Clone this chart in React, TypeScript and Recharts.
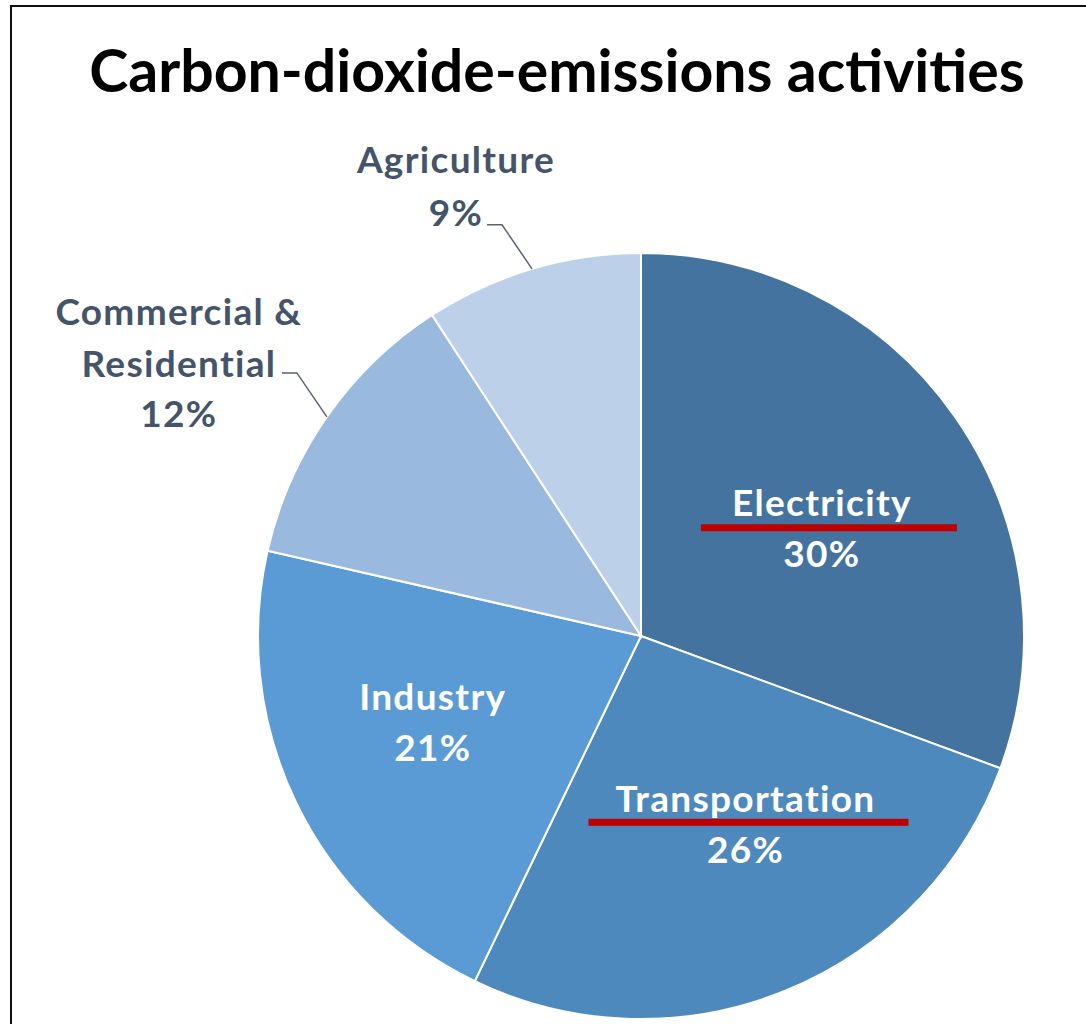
import { PieChart, Pie, Cell } from "recharts"

const CATEGORIES = ["Electricity", "Transportation", "Industry", "Commercial & Residential", "Agriculture"]
const SHARES = [30, 26, 21, 12, 9]
const LABEL_LINES = [["Electricity"], ["Transportation"], ["Industry"], ["Commercial &", "Residential"], ["Agriculture"]]
const COLORS = ["#44739f", "#4e89be", "#5b9bd5", "#9ab9df", "#bdd0ea"]

const data = CATEGORIES.map((name, i) => ({ name, value: SHARES[i] }))

const FONT = "Lato, 'Open Sans', sans-serif"
const RAD = Math.PI / 180
const LABEL_SIZE = 37
const LABEL_SPACING = 1.3

// label layout tweaks (Excel-style best fit positions)
const INSIDE_NUDGE: Record<number, [number, number]> = { 0: [5, 13], 1: [24, -12], 2: [-15, -9] }
const UNDERLINE: Record<number, { w: number; dx: number; dy: number }> = {
  0: { w: 256, dx: 7, dy: -2 },
  1: { w: 320, dx: 3, dy: -4 },
}
const OUTSIDE_TEXT: Record<number, { dx: number; dys: number[] }> = {
  3: { dx: -103, dys: [-62, -10, 40] },
  4: { dx: -31, dys: [-66, -13] },
}

function renderLabel(props: any) {
  const { cx, cy, midAngle, outerRadius, index, value } = props
  const cos = Math.cos(-midAngle * RAD)
  const sin = Math.sin(-midAngle * RAD)
  const lines = LABEL_LINES[index]
  const textProps = {
    textAnchor: "middle" as const,
    dominantBaseline: "central" as const,
    fontFamily: FONT,
    fontWeight: 700,
    fontSize: LABEL_SIZE,
    letterSpacing: LABEL_SPACING,
  }

  if (index < 3) {
    const r = outerRadius * 0.56
    const [nx, ny] = INSIDE_NUDGE[index]
    const x = cx + r * cos + nx
    const y = cy + r * sin + ny
    const ul = UNDERLINE[index]
    return (
      <g key={`lbl-${index}`}>
        <text x={x} y={y - 25} fill="#fff" {...textProps}>{lines[0]}</text>
        <text x={x} y={y + 26} fill="#fff" {...textProps}>{`${value}%`}</text>
        {ul && <rect x={x + ul.dx - ul.w / 2} y={y + ul.dy} width={ul.w} height={7} fill="#c00000" />}
      </g>
    )
  }

  const ex = cx + outerRadius * cos
  const ey = cy + outerRadius * sin
  const bx = ex - 30
  const by = ey - 44
  const endX = bx - 15
  const layout = OUTSIDE_TEXT[index]
  const allLines = [...lines, `${value}%`]
  return (
    <g key={`lbl-${index}`}>
      <polyline points={`${ex},${ey} ${bx},${by} ${endX},${by}`} fill="none" stroke="#5b6473" strokeWidth={1.5} />
      {allLines.map((t, i) => (
        <text key={i} x={endX + layout.dx} y={by + layout.dys[i]} fill="#44546a" {...textProps}>{t}</text>
      ))}
    </g>
  )
}

export default function App() {
  return (
    <div style={{ position: "absolute", left: 0, top: 0, width: 1086, height: 1024, overflow: "hidden", background: "#fff" }}>
      <div style={{ position: "absolute", left: 10, top: 5, width: 1200, height: 1200, border: "2px solid #111", boxSizing: "border-box" }} />
      <div style={{ position: "absolute", left: 0, top: 38, width: 1114, textAlign: "center", fontFamily: FONT, fontWeight: 700, fontSize: 59, lineHeight: "64px", color: "#000", whiteSpace: "nowrap" }}>
        Carbon-dioxide-emissions activities
      </div>
      <div style={{ position: "absolute", left: 0, top: 0 }}>
        <PieChart width={1086} height={1024} margin={{ top: 0, right: 0, bottom: 0, left: 0 }}>
          <Pie
            data={data}
            dataKey="value"
            nameKey="name"
            cx={641}
            cy={636}
            outerRadius={383}
            startAngle={90}
            endAngle={-270}
            stroke="#fff"
            strokeWidth={2}
            labelLine={false}
            label={renderLabel}
            isAnimationActive={false}
          >
            {data.map((entry, index) => (
              <Cell key={`cell-${index}`} fill={COLORS[index]} />
            ))}
          </Pie>
        </PieChart>
      </div>
    </div>
  )
}
